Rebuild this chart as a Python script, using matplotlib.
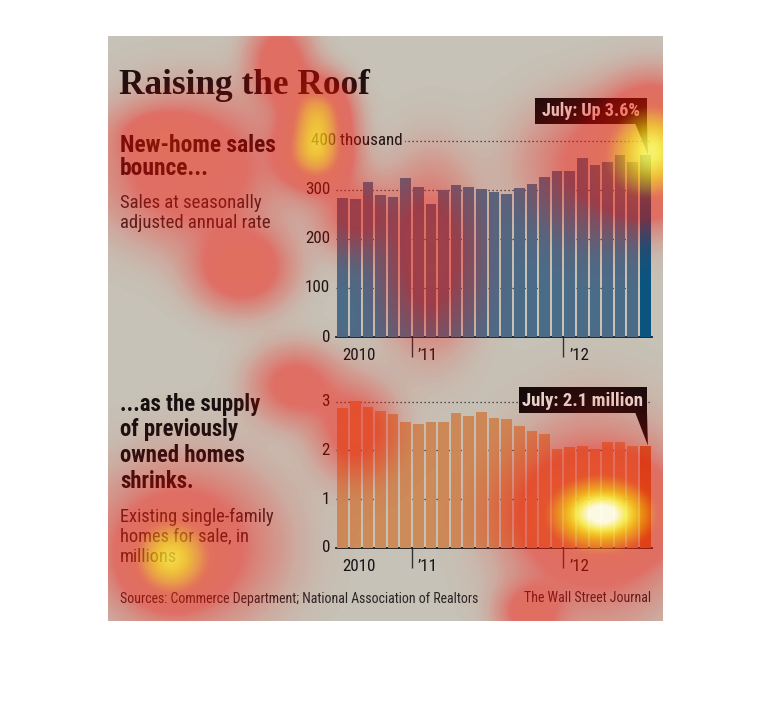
import matplotlib
matplotlib.use('Agg')
import matplotlib.pyplot as plt
import numpy as np
from matplotlib.colors import LinearSegmentedColormap
from matplotlib.patches import Rectangle, Polygon

# monthly data, Jul 2010 .. Jul 2012
months = ['Jul10', 'Aug10', 'Sep10', 'Oct10', 'Nov10', 'Dec10',
          'Jan11', 'Feb11', 'Mar11', 'Apr11', 'May11', 'Jun11',
          'Jul11', 'Aug11', 'Sep11', 'Oct11', 'Nov11', 'Dec11',
          'Jan12', 'Feb12', 'Mar12', 'Apr12', 'May12', 'Jun12', 'Jul12']
new_home_sales = [283, 281, 316, 290, 286, 324, 307, 272, 300, 311, 307, 303,
                  296, 291, 305, 313, 326, 338, 338, 365, 351, 357, 371, 358, 372]
homes_for_sale = [2.87, 3.01, 2.89, 2.81, 2.74, 2.59, 2.54, 2.58, 2.59, 2.76, 2.71, 2.78,
                  2.67, 2.64, 2.49, 2.39, 2.33, 2.03, 2.07, 2.08, 2.02, 2.17, 2.17, 2.10, 2.10]
year_labels = ['2010', "\u201911", "\u201912"]
year_starts = [0, 6, 18]
top_ticks = [0, 100, 200, 300, 400]
bot_ticks = [0, 1, 2, 3]

# eye-tracking heat spots over the page (x, y, spread x, spread y, strength)
hot_spots = [
    (190, 168, 55, 45, 0.30), (160, 135, 25, 15, 0.18), (242, 268, 30, 26, 0.32),
    (280, 62, 20, 28, 0.27), (318, 112, 20, 22, 0.52), (316, 154, 22, 22, 0.60),
    (654, 150, 30, 36, 0.76), (600, 165, 50, 42, 0.22), (430, 255, 30, 58, 0.26),
    (355, 215, 25, 25, 0.20), (295, 385, 28, 24, 0.24), (355, 430, 26, 30, 0.25),
    (185, 545, 58, 52, 0.28), (170, 560, 26, 26, 0.52), (603, 514, 30, 18, 0.46),
    (603, 513, 50, 33, 0.36), (595, 522, 54, 66, 0.24), (530, 612, 20, 18, 0.24),
]

BG = '#c6c2b7'
SANS = ['Roboto Condensed', 'Open Sans Condensed', 'Liberation Sans Narrow', 'Roboto']
SERIF = ['Liberation Serif', 'DejaVu Serif']
INK = '#141010'
GREY_INK = '#2a2424'
W, H = 770, 716

fig = plt.figure(figsize=(W / 100, H / 100), dpi=100)
fig.patch.set_facecolor('white')
renderer = fig.canvas.get_renderer()

base = fig.add_axes([0, 0, 1, 1], zorder=0)
base.set_xlim(0, W)
base.set_ylim(H, 0)
base.axis('off')
base.add_patch(Rectangle((108, 36), 555, 585, color=BG, lw=0))


def fit(texts, width):
    # scale font so the widest text of a block matches the width seen in the reference
    for _ in range(2):
        wmax = max(t.get_window_extent(renderer).width for t in texts)
        for t in texts:
            t.set_fontsize(t.get_fontsize() * width / wmax)


def block(ax, x0, baselines, lines, width, **kw):
    ts = [ax.text(x0, y, s, va='baseline', **kw) for y, s in zip(baselines, lines)]
    fit(ts, width)
    return ts


def px_axes(left, right, top, bottom):
    return fig.add_axes([left / W, 1 - bottom / H, (right - left) / W, (bottom - top) / H], zorder=2)


x = np.arange(len(months))

# ---- top chart
ax1 = px_axes(336.3, 651.7, 100, 337)
c1 = ['#4b6c88'] * (len(months) - 1) + ['#0a5580']
ax1.bar(x, new_home_sales, width=0.84, color=c1, zorder=3)
ax1.set_ylim(0, 237 / 0.49)

# ---- bottom chart
ax2 = px_axes(336.3, 651.7, 385, 548)
c2 = ['#cc8b59'] * (len(months) - 1) + ['#c2672f']
ax2.bar(x, homes_for_sale, width=0.84, color=c2, zorder=3)
ax2.set_ylim(0, 163 / 48.8)

tick_texts = []
for ax, ticks, yb in ((ax1, top_ticks, 360), (ax2, bot_ticks, 571)):
    ax.set_xlim(-0.5, len(months) - 0.5)
    ax.patch.set_alpha(0)
    for s in ('top', 'right', 'left'):
        ax.spines[s].set_visible(False)
    ax.spines['bottom'].set_linewidth(1.3)
    ax.spines['bottom'].set_color('#1a1a1a')
    for t in ticks[1:]:
        ax.axhline(t, color='#2a2a2a', lw=0.9, ls=(0, (1, 2.2)), zorder=1)
    ax.set_yticks([])
    ax.set_xticks([s - 0.5 for s in year_starts[1:]])
    ax.set_xticklabels([])
    ax.tick_params(axis='x', length=14.5, width=1, color='#333333', direction='out')
    for lab, s in zip(year_labels, year_starts):
        xp = ax.transData.transform((max(s - 0.5, -0.5) + 0.45, 0))[0]
        tick_texts.append(base.text(xp, yb, lab, ha='left', va='baseline', fontsize=12,
                                    family=SANS, color='#151515'))
    for t in ticks:
        yp = H - ax.transData.transform((0, t))[1]
        if ax is ax1 and t == 400:
            lab400 = ax.text(-2.48, t, '400 thousand', ha='left', va='center', fontsize=12,
                             family=SANS, color='#151515', zorder=4,
                             bbox=dict(facecolor=BG, edgecolor='none', pad=1.5))
        else:
            tick_texts.append(base.text(330, yp, str(t), ha='right', va='center', fontsize=12,
                                        family=SANS, color='#151515'))
fit([lab400], 92)
for t in tick_texts:
    t.set_fontsize(lab400.get_fontsize())

# ---- texts
block(base, 119, [94], ['Raising the Roof'], 251, fontsize=25, fontweight='bold',
      family=SERIF, color=INK)
block(base, 120, [152, 175], ['New-home sales', 'bounce...'], 156, fontsize=14,
      fontweight='bold', family=SANS, color=INK)
block(base, 120, [208, 228], ['Sales at seasonally', 'adjusted annual rate'], 151,
      fontsize=12, family=SANS, color=GREY_INK)
block(base, 120, [410.5, 436, 462.5, 488],
      ['...as the supply', 'of previously', 'owned homes', 'shrinks.'], 140,
      fontsize=14, fontweight='bold', family=SANS, color=INK)
block(base, 120, [521.5, 541.5, 562], ['Existing single-family', 'homes for sale, in', 'millions'],
      154, fontsize=12, family=SANS, color=GREY_INK)
src = block(base, 120, [602.5], ['Sources: Commerce Department; National Association of Realtors'],
            356, fontsize=9.5, family=SANS, color=GREY_INK)
wsj = base.text(651, 602.5, 'The Wall Street Journal', fontsize=src[0].get_fontsize(),
                family=SANS, color=GREY_INK, va='baseline', ha='right')

# ---- callouts, drawn above the charts
top = fig.add_axes([0, 0, 1, 1], zorder=5)
top.set_xlim(0, W)
top.set_ylim(H, 0)
top.axis('off')


def callout(ax, value, label, box, width):
    l, t, r, b = box
    top.add_patch(Rectangle((l, t), r - l, b - t, color='#0e0c0c', lw=0))
    lt = top.text((l + r) / 2, (t + b) / 2 + 0.5, label, ha='center', va='center',
                  fontsize=11, fontweight='bold', family=SANS, color='#e8e2da')
    fit([lt], width)
    disp = ax.transData.transform((len(months) - 1 + 0.2, value))
    tx, ty = top.transData.inverted().transform(disp)
    top.add_patch(Polygon([(r - 12, b - 1), (r, b - 1), (tx, ty)], closed=True,
                          color='#0e0c0c', lw=0))


callout(ax1, new_home_sales[-1], 'July: Up 3.6%', (535, 98, 647, 124), 98)
callout(ax2, homes_for_sale[-1], 'July: 2.1 million', (519, 387, 647, 413), 120)

# ---- heat overlay
gx, gy = np.meshgrid(np.arange(108, 663) + 0.5, np.arange(36, 621) + 0.5)
heat = np.zeros_like(gx)
for hx, hy, sx, sy, w in hot_spots:
    heat += w * np.exp(-((gx - hx) ** 2 / (2 * sx ** 2) + (gy - hy) ** 2 / (2 * sy ** 2)))
heat = np.clip(heat, 0, 1)
heat_cmap = LinearSegmentedColormap.from_list('heat', [
    (0.0, (1.0, 0.03, 0.0, 0.0)),
    (0.07, (1.0, 0.03, 0.0, 0.22)),
    (0.18, (1.0, 0.03, 0.0, 0.45)),
    (0.4, (1.0, 0.12, 0.0, 0.5)),
    (0.55, (1.0, 0.5, 0.02, 0.6)),
    (0.7, (1.0, 0.76, 0.03, 0.72)),
    (0.86, (1.0, 0.97, 0.3, 0.86)),
    (1.0, (1.0, 1.0, 0.92, 0.96)),
])
top.imshow(heat, cmap=heat_cmap, vmin=0, vmax=1, extent=(108, 663, 621, 36),
           origin='upper', interpolation='bilinear', zorder=10)
top.set_xlim(0, W)
top.set_ylim(H, 0)

plt.savefig('out.png', dpi=100, facecolor='white')
